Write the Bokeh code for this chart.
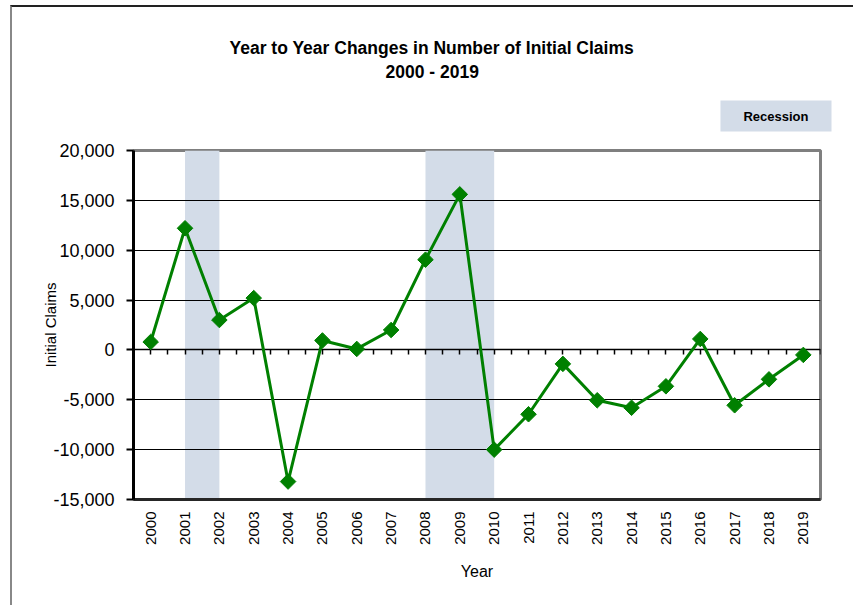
import math
import numpy as np
from bokeh.plotting import figure
from bokeh.layouts import column
from bokeh.models import (Range1d, FixedTicker, LinearAxis, NumeralTickFormatter, Title)
from bokeh.embed import file_html
from bokeh.resources import INLINE

# ---- data ----
years = ["2000", "2001", "2002", "2003", "2004", "2005", "2006", "2007", "2008", "2009",
         "2010", "2011", "2012", "2013", "2014", "2015", "2016", "2017", "2018", "2019"]
changes = [800, 12200, 3000, 5200, -13200, 950, 100, 2000, 9050, 15600,
           -10000, -6450, -1400, -5050, -5800, -3650, 1100, -5550, -2950, -500]
recession_start = ["2001", "2008"]
recession_end = ["2002", "2010"]
y_ticks = [-15000, -10000, -5000, 0, 5000, 10000, 15000, 20000]

title_line1 = "Year to Year Changes in Number of Initial Claims"
title_line2 = "2000 - 2019"
legend_text = "Recession"

FONT = "Liberation Sans"
GREEN = "#008000"
BAND = "#d3dce8"

idx = list(range(len(years)))

p = figure(width=843, height=600, output_backend="svg", toolbar_location=None, title=None,
           x_range=Range1d(-0.5, len(years) - 0.5),
           y_range=Range1d(min(y_ticks), max(y_ticks)),
           min_border_left=121, min_border_right=35, min_border_top=143, min_border_bottom=108,
           styles={"border-top": "2px solid #222222", "border-left": "2px solid #888888"})
p.background_fill_color = "white"
p.border_fill_color = "white"
p.outline_line_color = "#7f7f7f"
p.outline_line_width = 3

# recession bands
band_left = [years.index(s) for s in recession_start]
band_right = [years.index(e) for e in recession_end]
bands = p.quad(left=band_left, right=band_right,
               bottom=[min(y_ticks)] * len(band_left), top=[max(y_ticks)] * len(band_left),
               fill_color=BAND, fill_alpha=1.0, line_color=None, level="underlay")

# grid
p.xgrid.visible = False
p.ygrid.ticker = FixedTicker(ticks=y_ticks)
p.ygrid.grid_line_color = "black"
p.ygrid.grid_line_width = 1
p.ygrid.level = "glyph"

# x axis (labels at bottom)
xa = p.xaxis[0]
xa.ticker = FixedTicker(ticks=idx)
xa.major_label_overrides = {i: y for i, y in zip(idx, years)}
xa.major_label_orientation = math.pi / 2
xa.major_tick_out = 0
xa.major_tick_in = 0
xa.minor_tick_line_color = None
xa.axis_line_color = "#262626"
xa.axis_line_width = 3
xa.major_label_standoff = 12
xa.major_label_text_font = FONT
xa.major_label_text_font_size = "15px"
xa.major_label_text_color = "black"
xa.axis_label = "Year"
xa.axis_label_text_font = FONT
xa.axis_label_text_font_style = "normal"
xa.axis_label_text_font_size = "16px"
xa.axis_label_text_color = "black"
xa.axis_label_standoff = 15

# y axis
ya = p.yaxis[0]
ya.ticker = FixedTicker(ticks=y_ticks)
ya.formatter = NumeralTickFormatter(format="0,0")
ya.major_tick_out = 7
ya.major_tick_in = 0
ya.major_tick_line_width = 2
ya.major_tick_line_color = "black"
ya.minor_tick_line_color = None
ya.axis_line_color = "black"
ya.axis_line_width = 3
ya.major_label_text_font = FONT
ya.major_label_text_font_size = "18px"
ya.major_label_text_color = "black"
ya.major_label_standoff = 12
ya.axis_label = "Initial Claims"
ya.axis_label_text_font = FONT
ya.axis_label_text_font_style = "normal"
ya.axis_label_text_font_size = "15px"
ya.axis_label_text_color = "black"
ya.axis_label_standoff = -9

# horizontal axis crossing at zero with half-step ticks (no labels)
zero_axis = LinearAxis(fixed_location=0,
                       ticker=FixedTicker(ticks=list(np.arange(-0.5, len(years), 0.5))),
                       major_label_text_color=None, major_label_text_font_size="10px",
                       major_tick_out=5, major_tick_in=0,
                       major_tick_line_color="black", major_tick_line_width=1.5,
                       minor_tick_line_color=None,
                       axis_line_color="black", axis_line_width=1.5)
p.add_layout(zero_axis, "below")

# series
p.line(idx, changes, line_color=GREEN, line_width=3, level="overlay")
p.scatter(idx, changes, marker="square", size=11, angle=math.pi / 4,
          fill_color=GREEN, line_color=GREEN, level="overlay")

# above panel, from the plot outward: legend box, title line 2, title line 1
leg = Title(text=legend_text, align="right", offset=-11, vertical_align="middle", standoff=36,
            text_font=FONT, text_font_style="bold", text_font_size="13px", text_color="black",
            background_fill_color=BAND, background_fill_alpha=1.0,
            padding=dict(left=23, right=23, top=8, bottom=8))
t2 = Title(text=title_line2, align="left", offset=252, vertical_align="bottom", standoff=0,
           text_font=FONT, text_font_style="bold", text_font_size="17.5px", text_color="black")
t1 = Title(text=title_line1, align="left", offset=96, vertical_align="bottom", standoff=3,
           text_font=FONT, text_font_style="bold", text_font_size="17.5px", text_color="black")
p.add_layout(leg, "above")
p.add_layout(t2, "above")
p.add_layout(t1, "above")

root = column(p, styles={"padding-left": "10px", "padding-top": "5px"})

open("out.html", "w").write(file_html(root, INLINE))
